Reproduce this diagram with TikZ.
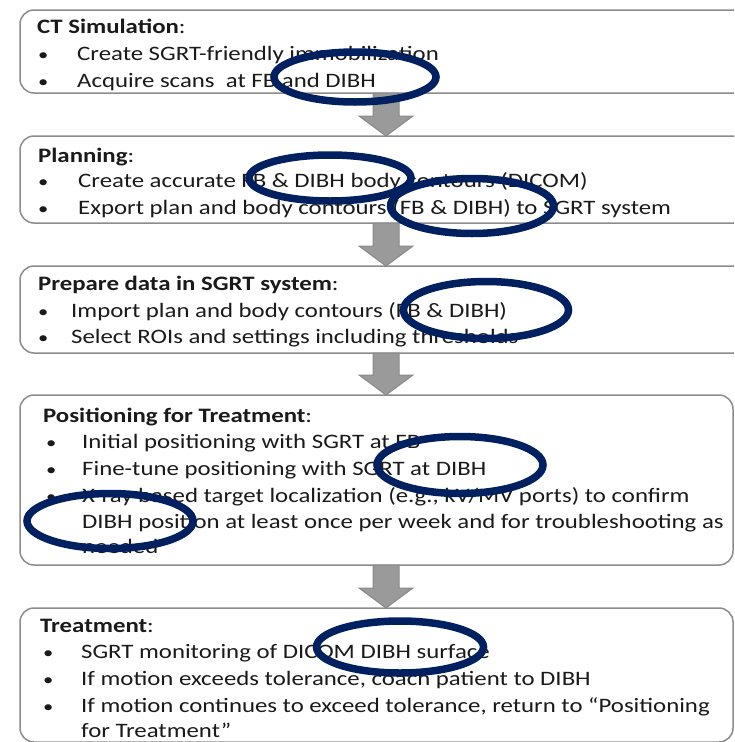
\documentclass[tikz,border=0pt]{standalone}
\usepackage{fontspec}
\setmainfont{Carlito}[FakeStretch=1.21]
\usetikzlibrary{shapes.geometric,calc}
\definecolor{navy}{HTML}{002060}
\definecolor{boxline}{HTML}{8C8C8C}
\definecolor{arrowfill}{HTML}{9A9A9A}
\definecolor{arrowline}{HTML}{8A8A8A}
\definecolor{ink}{HTML}{1A1A1A}
\newcommand\blockarrow[2]{\draw[blk] let \p1=(#1), \p2=(#2) in (\x1-13pt,\y1) -- (\x1+13pt,\y1) -- (\x1+13pt,\y2+20pt) -- (\x1+27pt,\y2+20pt) -- (\x1,\y2) -- (\x1-27pt,\y2+20pt) -- (\x1-13pt,\y2+20pt) -- cycle;}
\begin{document}
\begin{tikzpicture}[x=1pt,y=-1pt,
  box/.style={draw=boxline,line width=1.5pt,fill=white,rounded corners=14pt,rectangle,anchor=north west,inner sep=0pt,outer sep=0pt},
  txt/.style={anchor=base west,inner sep=0pt,text=ink,font=\fontsize{20.5}{24}\selectfont},
  dot/.style={anchor=base west,inner sep=0pt,text=ink,font=\fontsize{17}{20}\selectfont},
  ring/.style={ellipse,draw=navy,line width=7.5pt,inner sep=0pt},
  blk/.style={draw=arrowline,fill=arrowfill,line width=1pt}]
\useasboundingbox (0,0) rectangle (734,742);
\clip (0,0) rectangle (734,742);
% boxes
\node[box,minimum width=780pt,minimum height=83pt] (b1) at (20,10) {};
\node[box,minimum width=780pt,minimum height=87pt] (b2) at (20,136) {};
\node[box,minimum width=780pt,minimum height=87pt] (b3) at (20,266) {};
\node[box,minimum width=713pt,minimum height=170pt] (b4) at (20,395) {};
\node[box,minimum width=713pt,minimum height=134pt] (b5) at (20,608) {};
% arrows
\coordinate (ax) at (386,0);
\blockarrow{ax |- b1.south}{ax |- b2.north}
\blockarrow{ax |- b2.south}{ax |- b3.north}
\blockarrow{ax |- b3.south}{ax |- b4.north}
\blockarrow{ax |- b4.south}{ax |- b5.north}
% box 1
\node[txt] (t1) at (37,33) {\textbf{CT Simulation}:};
\node[dot] (d1a) at (38,60) {•};
\node[txt] (t1a) at (77,60) {Create SGRT-friendly immobilization};
\node[dot] (d1b) at (38,87) {•};
\node[txt] (t1b) at (77,87) {Acquire scans\ \ at FB and DIBH};
% box 2
\node[txt] (t2) at (38,162) {\textbf{Planning}:};
\node[dot] (d2a) at (38,187) {•};
\node[txt] (t2a) at (78,187) {Create accurate FB \& DIBH body contours (DICOM)};
\node[dot] (d2b) at (38,214) {•};
\node[txt] (t2b) at (78,214) {Export plan and body contours (FB \& DIBH) to SGRT system};
% box 3
\node[txt] (t3) at (38,290) {\textbf{Prepare data in SGRT system}:};
\node[dot] (d3a) at (38,317) {•};
\node[txt] (t3a) at (71,317) {Import plan and body contours (FB \& DIBH)};
\node[dot] (d3b) at (38,343) {•};
\node[txt] (t3b) at (71,343) {Select ROIs and settings including thresholds};
% box 4
\node[txt] (t4) at (43,422) {\textbf{Positioning for Treatment}:};
\node[dot] (d4a) at (46,448) {•};
\node[txt] (t4a) at (82,448) {Initial positioning with SGRT at FB};
\node[dot] (d4b) at (46,475) {•};
\node[txt] (t4b) at (82,475) {Fine-tune positioning with SGRT at DIBH};
\node[dot] (d4c) at (46,502) {•};
\node[txt] (t4c) at (82,502) {X-ray based target localization (e.g., kV/MV ports) to confirm};
\node[txt] (t4d) at (82,528) {DIBH position at least once per week and for troubleshooting as};
\node[txt] (t4e) at (82,553) {needed};
% box 5
\node[txt] (t5) at (40,632) {\textbf{Treatment}:};
\node[dot] (d5a) at (43,658) {•};
\node[txt] (t5a) at (81,658) {SGRT monitoring of DICOM DIBH surface};
\node[dot] (d5b) at (43,685) {•};
\node[txt] (t5b) at (81,685) {If motion exceeds tolerance, coach patient to DIBH};
\node[dot] (d5c) at (43,712) {•};
\node[txt] (t5c) at (81,712) {If motion continues to exceed tolerance, return to “Positioning};
\node[txt] (t5d) at (81,737) {for Treatment”};
% ellipses
\node[ring,minimum width=162pt,minimum height=50pt] (e1) at (355,77) {};
\node[ring,minimum width=162pt,minimum height=46pt] (e2) at (330,178) {};
\node[ring,minimum width=163pt,minimum height=55pt] (e3) at (472,206) {};
\node[ring,minimum width=165pt,minimum height=57pt] (e4) at (486,310) {};
\node[ring,minimum width=166pt,minimum height=57pt] (e5) at (460,465) {};
\node[ring,minimum width=166pt,minimum height=55pt] (e6) at (110,521) {};
\node[ring,minimum width=167pt,minimum height=52pt] (e7) at (400,647) {};
\end{tikzpicture}
\end{document}
